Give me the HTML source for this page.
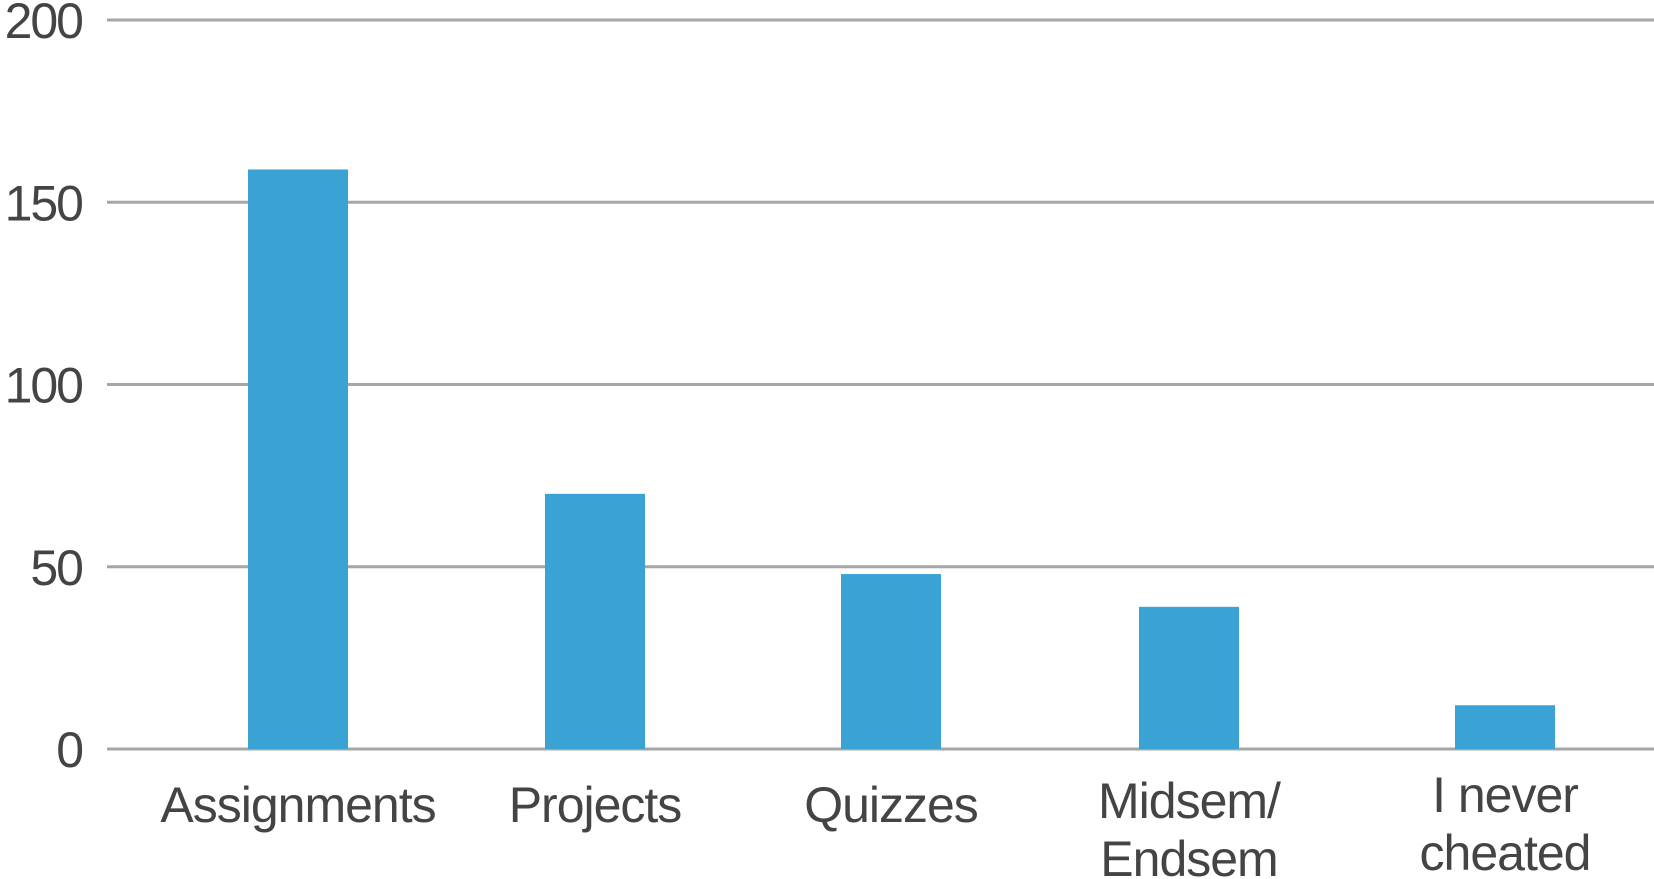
<!DOCTYPE html>
<html><head><meta charset="utf-8"><style>
html,body{margin:0;padding:0;background:#fff;}
svg{display:block;font-family:"Liberation Sans",sans-serif;}
</style></head><body>
<svg id="chart" width="1654" height="879"></svg>
<script>
const categories = [["Assignments"],["Projects"],["Quizzes"],["Midsem/","Endsem"],["I never","cheated"]];
const values = [159, 70, 48, 39, 12];
const yTicks = [0, 50, 100, 150, 200];
const centersX = [298, 595, 891, 1189, 1505];
const NS = "http://www.w3.org/2000/svg";
const svg = document.getElementById("chart");
const y0 = 749, yTop = 20, yMax = 200;
function yScale(v){ return y0 - (v / yMax) * (y0 - yTop); }
function xScale(i){ return centersX[i]; }
const barW = 100;
function mk(tag, attrs){ const e = document.createElementNS(NS, tag); for (const k in attrs) e.setAttribute(k, attrs[k]); svg.appendChild(e); return e; }
yTicks.forEach(t => {
  const l = mk("line", {x1:107, x2:1654, y1:yScale(t), y2:yScale(t), stroke:"#a6a6a6", "stroke-width":3});
  
  
  const tx = mk("text", {x:82, y:yScale(t)+18, "text-anchor":"end", "font-size":50, fill:"#444", "letter-spacing":"-2"});
  tx.textContent = t;
  
  
});
values.forEach((v, i) => {
  const r = mk("rect", {x:xScale(i)-barW/2, y:yScale(v), width:barW, height:y0-yScale(v), fill:"#3ba3d4"});
  
  
});
categories.forEach((lines, i) => {
  const startY = lines.length === 1 ? 822 : (i === 3 ? 818 : 812);
  lines.forEach((ln, j) => {
    const tx = mk("text", {x:xScale(i), y:startY + j*58, "text-anchor":"middle", "font-size":50, fill:"#444", "letter-spacing":"-1"});
    tx.textContent = ln;
    
    
  });
});
</script>
</body></html>
